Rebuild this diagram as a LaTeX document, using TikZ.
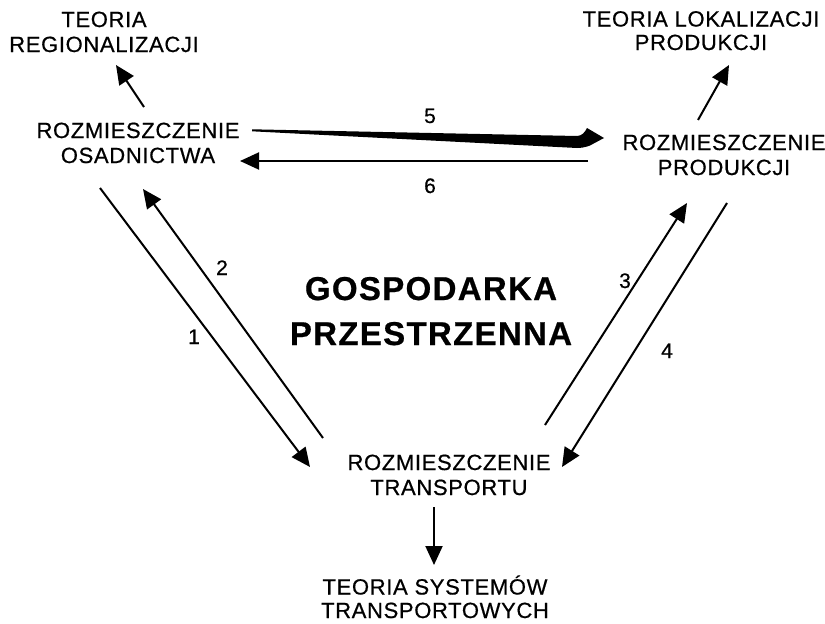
\documentclass[tikz,border=0pt]{standalone}
\usepackage{fontspec}
\setmainfont{Liberation Sans}
\newfontfamily\labfont[LetterSpace=3,FakeBold=0.6]{Liberation Sans}
\newfontfamily\numfont[FakeBold=0.6]{Liberation Sans}
\newfontfamily\headfont[LetterSpace=4,FakeBold=0.6]{Liberation Sans}
\usetikzlibrary{arrows.meta}
\begin{document}
\begin{tikzpicture}[x=1pt,y=-1pt,
  lbl/.style={inner sep=0pt, align=center, anchor=base,
    font=\labfont\fontsize{22}{25}\selectfont},
  lbltight/.style={lbl, font=\labfont\fontsize{22}{23.5}\selectfont},
  headline/.style={inner sep=0pt, align=center, anchor=base,
    font=\headfont\bfseries\fontsize{33}{45}\selectfont},
  num/.style={inner sep=0pt, anchor=base, font=\numfont\fontsize{21}{25}\selectfont},
  flow/.style={line width=2pt, -{Triangle[length=19pt,width=17pt]}},
]
\useasboundingbox (0,0) rectangle (825,624);

% text blocks (anchored on the baseline of their last line)
\node[lbl] (teoreg) at (104,52) {TEORIA\\REGIONALIZACJI};
\node[lbl] (osad) at (138,163) {ROZMIESZCZENIE\\OSADNICTWA};
\node[lbltight] (teolok) at (701,50) {TEORIA LOKALIZACJI\\PRODUKCJI};
\node[lbl] (prod) at (724,175) {ROZMIESZCZENIE\\PRODUKCJI};
\node[lbl] (trans) at (449,495) {ROZMIESZCZENIE\\TRANSPORTU};
\node[lbltight] (teosys) at (435,618) {TEORIA SYSTEMÓW\\TRANSPORTOWYCH};
\node[headline] (gosp) at (431,345) {GOSPODARKA\\PRZESTRZENNA};

% arrow end points
\coordinate (osadUp) at (144,107);
\coordinate (teoregIn) at (116,65);
\coordinate (prodUp) at (698,120);
\coordinate (teolokIn) at (729,65);
\coordinate (transDown) at (434,507);
\coordinate (teosysIn) at (434,565);
\coordinate (osadOut) at (100,188);
\coordinate (transInL) at (310,467);
\coordinate (transOutL) at (323,438);
\coordinate (osadIn) at (143,189);
\coordinate (transOutR) at (545,425);
\coordinate (prodIn) at (687,203);
\coordinate (prodOut) at (727,203);
\coordinate (transInR) at (562,467);
\coordinate (prodLeft) at (588,161);
\coordinate (osadRight) at (240,161);

% links to the theories
\draw[flow] (osadUp) -- (teoregIn);
\draw[flow] (prodUp) -- (teolokIn);
\draw[flow] (transDown) -- (teosysIn);

% links between the three placements
\draw[flow] (osadOut) -- (transInL);
\draw[flow] (transOutL) -- (osadIn);
\draw[flow] (transOutR) -- (prodIn);
\draw[flow] (prodOut) -- (transInR);
\draw[flow] (prodLeft) -- (osadRight);

% widening flow 5
\fill (252,129.3) -- (577,136)
  .. controls (582,136) and (585,132) .. (587,128)
  -- (604,138) -- (590,145.5)
  .. controls (585,147.5) and (580,148) .. (577,148)
  -- (252,131.3) -- cycle;

% flow numbers
\node[num] (n5) at (430,123) {5};
\node[num] (n6) at (430,193) {6};
\node[num] (n2) at (222,275) {2};
\node[num] (n1) at (194,344) {1};
\node[num] (n3) at (625,288) {3};
\node[num] (n4) at (667,358) {4};
\end{tikzpicture}
\end{document}
